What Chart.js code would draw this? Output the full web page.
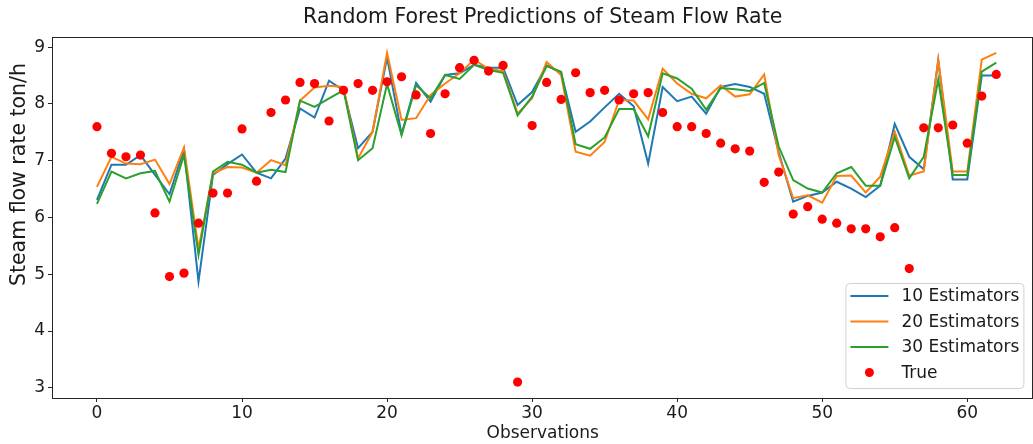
<!DOCTYPE html>
<html>
<head>
<meta charset="utf-8">
<script src="https://cdn.jsdelivr.net/npm/chart.js@4.4.0/dist/chart.umd.min.js"></script>
<style>
  html, body { margin: 0; padding: 0; background: #fff; overflow: hidden; }
  #wrap { width: 1033px; height: 444px; overflow: hidden; }
  #c { display: block; }
</style>
</head>
<body>
<div id="wrap"><canvas id="c" width="1038" height="444"></canvas></div>
<script>
// Observation index 0..62
const observations = [
  0, 1, 2, 3, 4, 5, 6, 7, 8, 9, 10, 11, 12, 13, 14, 15, 16, 17, 18, 19, 20,
  21, 22, 23, 24, 25, 26, 27, 28, 29, 30, 31, 32, 33, 34, 35, 36, 37, 38, 39, 40,
  41, 42, 43, 44, 45, 46, 47, 48, 49, 50, 51, 52, 53, 54, 55, 56, 57, 58, 59, 60,
  61, 62
];

// Measured steam flow (ton/h)
const trueValues = [
  7.60, 7.13, 7.07, 7.10, 6.08, 4.96, 5.02, 5.90, 6.43, 6.43, 7.56,
  6.64, 7.85, 8.07, 8.38, 8.36, 7.70, 8.24, 8.36, 8.24, 8.39,
  8.48, 8.16, 7.48, 8.18, 8.64, 8.77, 8.58, 8.68, 3.10, 7.62,
  8.38, 8.08, 8.55, 8.20, 8.24, 8.07, 8.18, 8.20, 7.85, 7.60,
  7.60, 7.48, 7.31, 7.21, 7.17, 6.62, 6.80, 6.06, 6.19, 5.97,
  5.90, 5.80, 5.80, 5.66, 5.82, 5.10, 7.58, 7.58, 7.63, 7.31,
  8.14, 8.52
];

// Random forest predictions, 10 trees
const pred10 = [
  6.31, 6.93, 6.93, 7.10, 6.75, 6.41, 7.20, 4.87, 6.75, 6.94, 7.11,
  6.79, 6.69, 7.04, 7.92, 7.76, 8.41, 8.24, 7.22, 7.51, 8.82,
  7.47, 8.37, 8.04, 8.51, 8.54, 8.69, 8.64, 8.64, 7.98, 8.21,
  8.68, 8.55, 7.51, 7.69, 7.94, 8.18, 7.96, 6.95, 8.30, 8.05,
  8.13, 7.83, 8.30, 8.35, 8.30, 8.18, 7.15, 6.28, 6.38, 6.44,
  6.63, 6.51, 6.36, 6.56, 7.65, 7.07, 6.85, 8.77, 6.67, 6.67,
  8.50, 8.50
];

// Random forest predictions, 20 trees
const pred20 = [
  6.54, 7.07, 6.95, 6.94, 7.02, 6.59, 7.23, 5.45, 6.78, 6.89, 6.88,
  6.79, 7.01, 6.92, 8.06, 8.29, 8.32, 8.30, 7.04, 7.51, 8.90,
  7.72, 7.75, 8.16, 8.36, 8.54, 8.78, 8.62, 8.58, 7.83, 8.10,
  8.74, 8.51, 7.16, 7.09, 7.33, 8.07, 8.06, 7.73, 8.62, 8.36,
  8.18, 8.10, 8.33, 8.13, 8.17, 8.52, 7.10, 6.34, 6.39, 6.26,
  6.73, 6.74, 6.44, 6.72, 7.51, 6.74, 6.81, 8.78, 6.81, 6.81,
  8.78, 8.90
];

// Random forest predictions, 30 trees
const pred30 = [
  6.24, 6.81, 6.69, 6.78, 6.82, 6.28, 7.10, 5.34, 6.81, 6.98, 6.93,
  6.79, 6.84, 6.80, 8.06, 7.95, 8.10, 8.24, 7.01, 7.22, 8.35,
  7.45, 8.33, 8.10, 8.51, 8.44, 8.69, 8.60, 8.55, 7.80, 8.13,
  8.67, 8.57, 7.29, 7.21, 7.41, 7.91, 7.91, 7.43, 8.54, 8.45,
  8.27, 7.90, 8.28, 8.26, 8.23, 8.37, 7.25, 6.66, 6.51, 6.44,
  6.78, 6.89, 6.56, 6.56, 7.42, 6.69, 7.07, 8.43, 6.75, 6.75,
  8.57, 8.73
];

const xTicks = [0, 10, 20, 30, 40, 50, 60];
const yTicks = [3, 4, 5, 6, 7, 8, 9];
const yLabel = 'Steam flow rate ton/h';

const FONT = "'DejaVu Sans', 'Liberation Sans', sans-serif";
const TEXT = '#1a1a1a';
const SPINE = '#262626';

const toPoints = (vals) => vals.map((v, i) => ({ x: observations[i], y: v }));

// Four-sided axes frame
const framePlugin = {
  id: 'frame',
  afterDatasetsDraw(chart) {
    const { ctx, chartArea: a } = chart;
    ctx.save();
    ctx.strokeStyle = SPINE;
    ctx.lineWidth = 1;
    ctx.strokeRect(Math.round(a.left) + 0.5, Math.round(a.top) + 0.5,
                   Math.round(a.right - a.left) - 1, Math.round(a.bottom - a.top));
    ctx.restore();
  }
};

// Rotated y-axis label, set a little above the axis midpoint
const yLabelPlugin = {
  id: 'yLabel',
  afterDraw(chart) {
    const { ctx, chartArea: a } = chart;
    ctx.save();
    ctx.translate(20, a.top + (a.bottom - a.top) * 0.381);
    ctx.rotate(-Math.PI / 2);
    ctx.font = `20.5px ${FONT}`;
    ctx.fillStyle = TEXT;
    ctx.textAlign = 'center';
    ctx.textBaseline = 'middle';
    ctx.fillText(yLabel, 0, 0);
    ctx.restore();
  }
};

// Legend box in the lower-right corner of the plot area
const cornerLegend = {
  id: 'cornerLegend',
  afterDraw(chart) {
    const { ctx, chartArea: a } = chart;
    const w = 178, h = 105, rowH = 25.5;
    const right = a.right - 10, bottom = a.bottom - 10;
    const left = right - w, top = bottom - h;
    ctx.save();
    ctx.beginPath();
    ctx.roundRect(left + 0.5, top + 0.5, w, h, 4);
    ctx.fillStyle = 'rgba(255,255,255,0.8)';
    ctx.fill();
    ctx.strokeStyle = 'rgba(204,204,204,0.9)';
    ctx.lineWidth = 1;
    ctx.stroke();
    ctx.font = `17px ${FONT}`;
    ctx.textBaseline = 'middle';
    ctx.textAlign = 'left';
    chart.data.datasets.forEach((ds, i) => {
      const y = top + 13 + i * rowH;
      if (ds.showLine === false) {
        ctx.beginPath();
        ctx.arc(left + 24, y, 4.5, 0, Math.PI * 2);
        ctx.fillStyle = ds.backgroundColor;
        ctx.fill();
      } else {
        ctx.beginPath();
        ctx.moveTo(left + 5, y);
        ctx.lineTo(left + 43, y);
        ctx.strokeStyle = ds.borderColor;
        ctx.lineWidth = 2;
        ctx.stroke();
      }
      ctx.fillStyle = TEXT;
      ctx.fillText(ds.label, left + 56, y + 1);
    });
    ctx.restore();
  }
};

new Chart(document.getElementById('c'), {
  type: 'line',
  data: {
    datasets: [
      { label: '10 Estimators', data: toPoints(pred10), borderColor: '#1f77b4', order: 3 },
      { label: '20 Estimators', data: toPoints(pred20), borderColor: '#ff7f0e', order: 2 },
      { label: '30 Estimators', data: toPoints(pred30), borderColor: '#2ca02c', order: 1 },
      { label: 'True', data: toPoints(trueValues), showLine: false, pointRadius: 4.6,
        pointBackgroundColor: '#ff0000', backgroundColor: '#ff0000', pointBorderWidth: 0, order: 0 }
    ]
  },
  options: {
    responsive: false,
    animation: false,
    events: [],
    layout: { padding: 0 },
    elements: {
      line: { borderWidth: 2, tension: 0, fill: false },
      point: { radius: 0 }
    },
    plugins: {
      legend: { display: false },
      tooltip: { enabled: false },
      title: {
        display: true,
        fullSize: false,
        text: 'Random Forest Predictions of Steam Flow Rate',
        color: TEXT,
        font: { family: FONT, size: 20.5, weight: 'normal' },
        padding: { top: 5.7, bottom: 6.7 }
      }
    },
    scales: {
      x: {
        type: 'linear',
        min: -3.1,
        max: 64.56,
        afterFit(scale) { scale.height = 46; scale.paddingLeft = 0; scale.paddingRight = 0; },
        afterBuildTicks(scale) { scale.ticks = xTicks.map(v => ({ value: v })); },
        ticks: { color: TEXT, font: { family: FONT, size: 17 }, padding: 1, maxRotation: 0, autoSkip: false },
        grid: { display: true, drawOnChartArea: false, drawTicks: true, tickLength: 4, color: SPINE },
        border: { display: true, color: SPINE },
        title: { display: true, text: 'Observations', color: TEXT,
                 font: { family: FONT, size: 17 }, padding: { top: 0, bottom: 0 } }
      },
      y: {
        type: 'linear',
        min: 2.82,
        max: 9.18,
        afterFit(scale) { scale.width = 52; },
        afterBuildTicks(scale) { scale.ticks = yTicks.map(v => ({ value: v })); },
        ticks: { color: TEXT, font: { family: FONT, size: 17 }, padding: 3 },
        grid: { display: true, drawOnChartArea: false, drawTicks: true, tickLength: 4, color: SPINE },
        border: { display: true, color: SPINE },
        title: { display: false }
      }
    }
  },
  plugins: [framePlugin, yLabelPlugin, cornerLegend]
});
</script>
</body>
</html>
